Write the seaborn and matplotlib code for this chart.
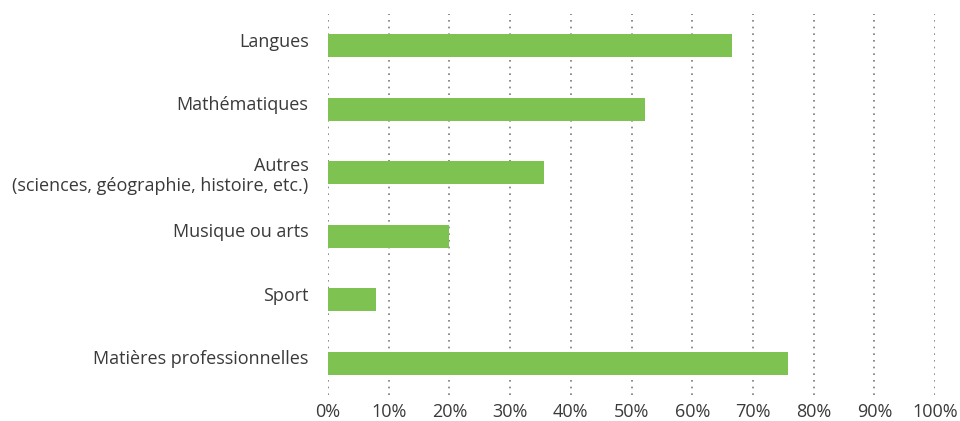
import matplotlib
matplotlib.use("Agg")
import matplotlib.pyplot as plt
import matplotlib.transforms as mtransforms
import seaborn as sns
import pandas as pd

categories = [
    "Langues",
    "Mathématiques",
    "Autres\n(sciences, géographie, histoire, etc.)",
    "Musique ou arts",
    "Sport",
    "Matières professionnelles",
]
shares = [66.6, 52.2, 35.6, 19.9, 7.9, 75.8]
tick_values = [0, 10, 20, 30, 40, 50, 60, 70, 80, 90, 100]
tick_labels = [f"{v}%" for v in tick_values]

df = pd.DataFrame({"matiere": categories, "part": shares})

sns.set_theme(style="white")
plt.rcParams["font.family"] = ["Open Sans", "DejaVu Sans"]

fig = plt.figure(figsize=(9.6, 4.21), dpi=100)
ax = fig.add_axes([0.3417, 0.062, 0.6323, 0.905])

sns.barplot(data=df, x="part", y="matiere", color="#7EC352", width=0.36,
            saturation=1, linewidth=0, ax=ax, zorder=3)

ax.set_xlim(0, 100)
ax.set_ylim(5.5, -0.5)
ax.set_xticks(tick_values)
ax.set_xticklabels(tick_labels)
ax.set_xlabel("")
ax.set_ylabel("")

# dotted vertical gridlines, including the zero line
for v in tick_values:
    ax.axvline(v, color="#7a7a7a", linestyle=(0, (1, 3)), linewidth=1.2, zorder=1)

for s in ax.spines.values():
    s.set_visible(False)

ax.tick_params(axis="both", length=0, colors="#3a3a3a", labelsize=13)
ax.tick_params(axis="y", pad=14)
ax.tick_params(axis="x", pad=6)

# single-line category labels sit a little above the bar centre
lift = mtransforms.ScaledTranslation(0, 6 / 100, fig.dpi_scale_trans)
for lbl in ax.get_yticklabels():
    lbl.set_multialignment("right")
    if "\n" not in lbl.get_text():
        lbl.set_transform(lbl.get_transform() + lift)

fig.savefig("out.png", dpi=100)
